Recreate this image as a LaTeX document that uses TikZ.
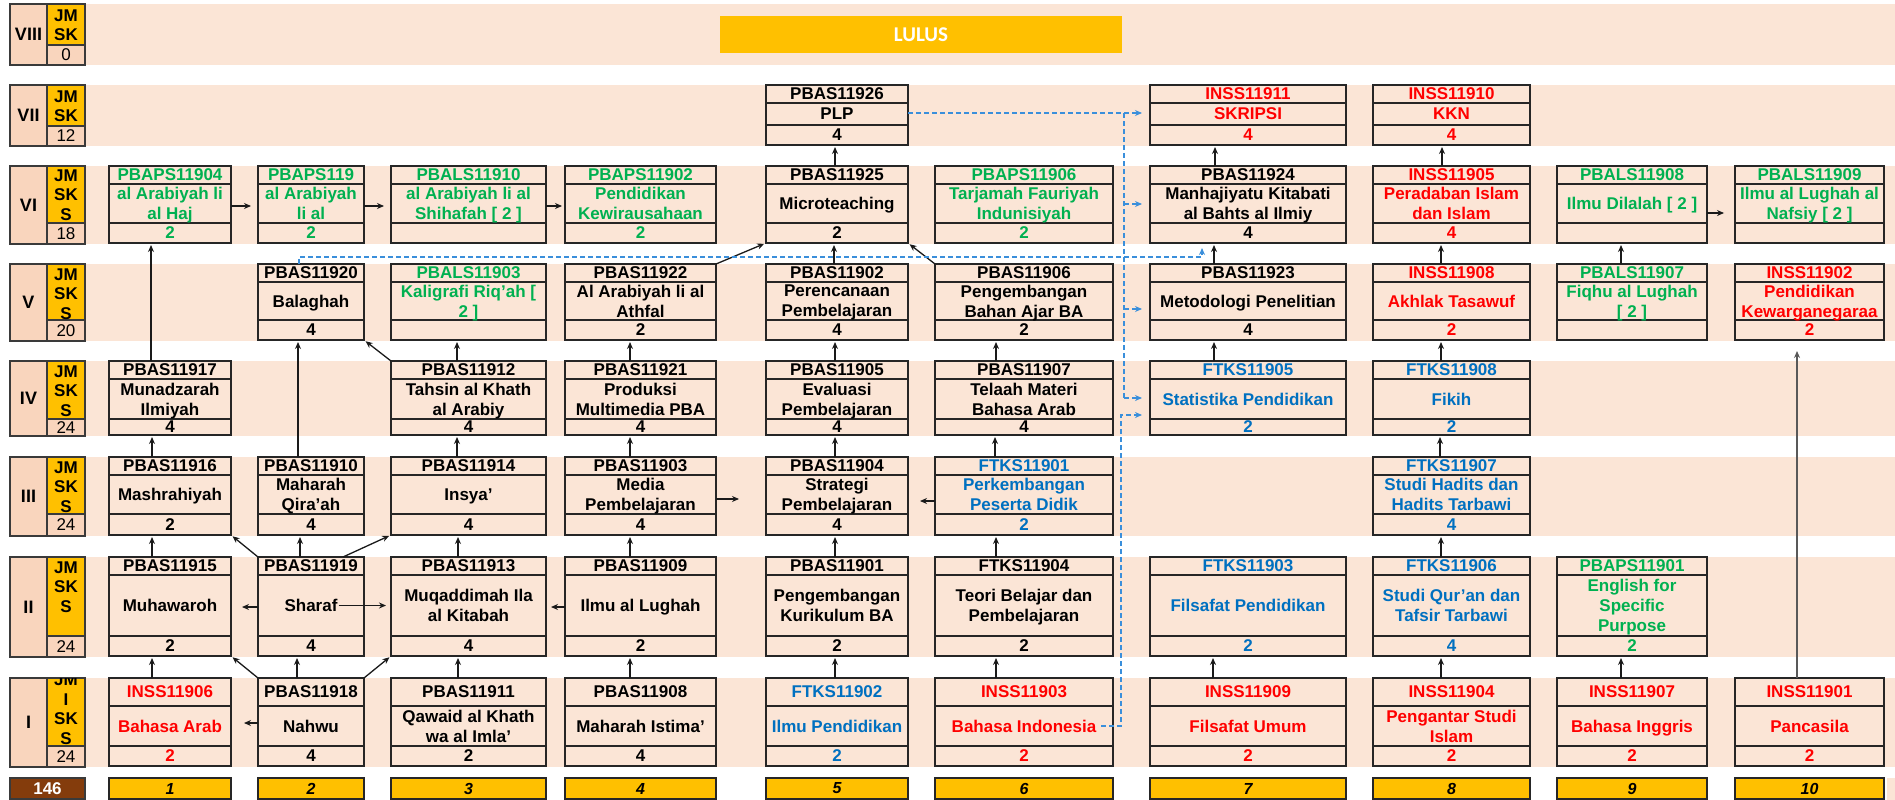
\documentclass[tikz,border=0pt]{standalone}
\usepackage{fontspec}
\setmainfont{Liberation Sans}
\newfontfamily\lulusfont{Carlito}
\usetikzlibrary{arrows.meta,calc}
\definecolor{peach}{HTML}{FBE5D6}
\definecolor{romcol}{HTML}{F9D5BD}
\definecolor{gold}{HTML}{FFC000}
\definecolor{brownc}{HTML}{843C0C}
\definecolor{boxline}{HTML}{262626}
\definecolor{labline}{HTML}{3A3A3A}
\definecolor{cgreen}{HTML}{00B050}
\definecolor{cred}{HTML}{FF0000}
\definecolor{cblue}{HTML}{0070C0}
\definecolor{cblack}{HTML}{000000}
\definecolor{dashblue}{HTML}{3A8FDB}
\definecolor{arrcol}{HTML}{1A1A1A}
\definecolor{arrgray}{HTML}{595959}

\newcommand\mysetcol[3]{\expandafter\def\csname xl#1\endcsname{#2}\expandafter\def\csname xr#1\endcsname{#3}}
\newcommand\mysetrow[5]{\expandafter\def\csname yt#1\endcsname{#2}\expandafter\def\csname yc#1\endcsname{#3}\expandafter\def\csname yk#1\endcsname{#4}\expandafter\def\csname yb#1\endcsname{#5}}
\mysetcol{1}{109}{231}
\mysetcol{2}{258}{364}
\mysetcol{3}{391}{546}
\mysetcol{4}{565}{716}
\mysetcol{5}{766}{908}
\mysetcol{6}{935}{1113}
\mysetcol{7}{1150}{1346}
\mysetcol{8}{1373}{1530}
\mysetcol{9}{1557}{1707}
\mysetcol{10}{1735}{1884}
\mysetrow{7}{85}{103}{125}{145}
\mysetrow{6}{166}{184}{223}{243}
\mysetrow{5}{264}{282}{320}{340}
\mysetrow{4}{361}{379}{419}{435}
\mysetrow{3}{457}{475}{514}{535}
\mysetrow{2}{557}{575}{636}{656}
\mysetrow{1}{678}{706}{746}{766}

\newcommand\crs[7]{%
 \edef\cxl{\csname xl#2\endcsname}\edef\cxr{\csname xr#2\endcsname}%
 \edef\cyt{\csname yt#3\endcsname}\edef\cyc{\csname yc#3\endcsname}%
 \edef\cyk{\csname yk#3\endcsname}\edef\cyb{\csname yb#3\endcsname}%
 \node[cbox, minimum width={\cxr-\cxl}, minimum height={\cyb-\cyt}] (#1) at ({(\cxl+\cxr)/2},{(\cyt+\cyb)/2}) {};
 \draw[cline] (#1.west |- 0,\cyc) -- (#1.east |- 0,\cyc);
 \draw[cline] (#1.west |- 0,\cyk) -- (#1.east |- 0,\cyk);
 \node[ctext, text=#4] (#1a) at ({(\cxl+\cxr)/2},{(\cyt+\cyc)/2}) {#5};
 \node[ctext, text=#4, align=center] (#1t) at ({(\cxl+\cxr)/2},{(\cyc+\cyk)/2}) {#6};
 \node[ctext, text=#4] (#1k) at ({(\cxl+\cxr)/2},{(\cyk+\cyb)/2}) {#7};
}
\newcommand\lab[8]{%
 \fill[peach] (10,#3) rectangle (1895,#5);
 \node[romcell, minimum height={#5-#3}] (#1r) at (28.5,{(#3+#5)/2}) {#2};
 \node[ycell, minimum height={#4-#3}] (#1y) at (66,{(#3+#4)/2}) {};
 \node[ncell, minimum height={#5-#4}] (#1n) at (66,{(#4+#5)/2}) {#7};
 \begin{scope}\clip (47,#3) rectangle (85,#4);
 \node[labtext,align=center] at (66,#8) {#6};\end{scope}
}
\newcommand\numb[1]{%
 \edef\cxl{\csname xl#1\endcsname}\edef\cxr{\csname xr#1\endcsname}%
 \node[numbox, minimum width={\cxr-\cxl}, minimum height=21] (b#1) at ({(\cxl+\cxr)/2},788.5) {#1};
}
\newcommand\varr[3]{\draw[arr] (#1.north -| #3,0) -- (#2.south -| #3,0);}

\begin{document}
\begin{tikzpicture}[x=1pt,y=-1pt,
 cbox/.style={draw=boxline,fill=peach,line width=1.5pt,inner sep=0pt,outer sep=0pt,rectangle},
 cline/.style={draw=boxline,line width=1.5pt},
 ctext/.style={font=\fontsize{17}{20}\selectfont\bfseries,inner sep=0pt,text depth=0pt},
 romcell/.style={draw=labline,fill=romcol,line width=1.5pt,minimum width=37,inner sep=0pt,outer sep=0pt,font=\fontsize{18}{20}\selectfont\bfseries},
 ycell/.style={draw=labline,fill=gold,line width=1.5pt,minimum width=38,inner sep=0pt,outer sep=0pt},
 ncell/.style={draw=labline,fill=romcol,line width=1.5pt,minimum width=38,inner sep=0pt,outer sep=0pt,font=\fontsize{17}{20}\selectfont},
 labtext/.style={font=\fontsize{17}{19.5}\selectfont\bfseries,inner sep=0pt,text depth=0pt},
 numbox/.style={draw=boxline,fill=gold,line width=1.5pt,inner sep=0pt,outer sep=0pt,font=\fontsize{16}{18}\selectfont\bfseries\itshape},
 arr/.style={draw=arrcol,line width=1.3pt,shorten >=2pt,-{Stealth[length=7pt,width=6pt]}},
 dsh/.style={draw=dashblue,line width=1.5pt,dash pattern=on 5pt off 3pt,-{Stealth[length=7pt,width=6pt]}},
]
\useasboundingbox (0,0) rectangle (1895,800);
\fill[white] (0,0) rectangle (1895,800);

% row labels and bands
\lab{l8}{VIII}{4}{45}{65}{JM\\SK}{0}{25}
\lab{l7}{VII}{85}{126}{146}{JM\\SK}{12}{106}
\lab{l6}{VI}{166}{223}{244}{JM\\SK\\S}{18}{195}
\lab{l5}{V}{264}{320}{341}{JM\\SK\\S}{20}{294}
\lab{l4}{IV}{361}{419}{436}{JM\\SK\\S}{24}{391}
\lab{l3}{III}{457}{514}{536}{JM\\SK\\S}{24}{487}
\lab{l2}{II}{557}{636}{657}{JM\\SK\\S}{24}{587}
\lab{l1}{I}{678}{746}{767}{JM\\I\\SK\\S}{24}{709}

% LULUS
\node[fill=gold,minimum width=402,minimum height=37,inner sep=0pt,text=white,font=\lulusfont\fontsize{21}{24}\selectfont\bfseries] (lulus) at (921,34.5) {LULUS};

% row VII
\crs{r7c5}{5}{7}{cblack}{PBAS11926}{PLP}{4}
\crs{r7c7}{7}{7}{cred}{INSS11911}{SKRIPSI}{4}
\crs{r7c8}{8}{7}{cred}{INSS11910}{KKN}{4}
% row VI
\crs{r6c1}{1}{6}{cgreen}{PBAPS11904}{al Arabiyah li\\al Haj}{2}
\crs{r6c2}{2}{6}{cgreen}{PBAPS119}{al Arabiyah\\li al}{2}
\crs{r6c3}{3}{6}{cgreen}{PBALS11910}{al Arabiyah li al\\Shihafah [ 2 ]}{}
\crs{r6c4}{4}{6}{cgreen}{PBAPS11902}{Pendidikan\\Kewirausahaan}{2}
\crs{r6c5}{5}{6}{cblack}{PBAS11925}{Microteaching}{2}
\crs{r6c6}{6}{6}{cgreen}{PBAPS11906}{Tarjamah Fauriyah\\Indunisiyah}{2}
\crs{r6c7}{7}{6}{cblack}{PBAS11924}{Manhajiyatu Kitabati\\al Bahts al Ilmiy}{4}
\crs{r6c8}{8}{6}{cred}{INSS11905}{Peradaban Islam\\dan Islam}{4}
\crs{r6c9}{9}{6}{cgreen}{PBALS11908}{Ilmu Dilalah [ 2 ]}{}
\crs{r6c10}{10}{6}{cgreen}{PBALS11909}{Ilmu al Lughah al\\Nafsiy [ 2 ]}{}
% row V
\crs{r5c2}{2}{5}{cblack}{PBAS11920}{Balaghah}{4}
\crs{r5c3}{3}{5}{cgreen}{PBALS11903}{Kaligrafi Riq'ah [\\2 ]}{}
\crs{r5c4}{4}{5}{cblack}{PBAS11922}{Al Arabiyah li al\\Athfal}{2}
\crs{r5c5}{5}{5}{cblack}{PBAS11902}{Perencanaan\\Pembelajaran}{4}
\crs{r5c6}{6}{5}{cblack}{PBAS11906}{Pengembangan\\Bahan Ajar BA}{2}
\crs{r5c7}{7}{5}{cblack}{PBAS11923}{Metodologi Penelitian}{4}
\crs{r5c8}{8}{5}{cred}{INSS11908}{Akhlak Tasawuf}{2}
\crs{r5c9}{9}{5}{cgreen}{PBALS11907}{Fiqhu al Lughah\\{[} 2 ]}{}
\crs{r5c10}{10}{5}{cred}{INSS11902}{Pendidikan\\Kewarganegaraa}{2}
% row IV
\crs{r4c1}{1}{4}{cblack}{PBAS11917}{Munadzarah\\Ilmiyah}{4}
\crs{r4c3}{3}{4}{cblack}{PBAS11912}{Tahsin al Khath\\al Arabiy}{4}
\crs{r4c4}{4}{4}{cblack}{PBAS11921}{Produksi\\Multimedia PBA}{4}
\crs{r4c5}{5}{4}{cblack}{PBAS11905}{Evaluasi\\Pembelajaran}{4}
\crs{r4c6}{6}{4}{cblack}{PBAS11907}{Telaah Materi\\Bahasa Arab}{4}
\crs{r4c7}{7}{4}{cblue}{FTKS11905}{Statistika Pendidikan}{2}
\crs{r4c8}{8}{4}{cblue}{FTKS11908}{Fikih}{2}
% row III
\crs{r3c1}{1}{3}{cblack}{PBAS11916}{Mashrahiyah}{2}
\crs{r3c2}{2}{3}{cblack}{PBAS11910}{Maharah\\Qira'ah}{4}
\crs{r3c3}{3}{3}{cblack}{PBAS11914}{Insya'}{4}
\crs{r3c4}{4}{3}{cblack}{PBAS11903}{Media\\Pembelajaran}{4}
\crs{r3c5}{5}{3}{cblack}{PBAS11904}{Strategi\\Pembelajaran}{4}
\crs{r3c6}{6}{3}{cblue}{FTKS11901}{Perkembangan\\Peserta Didik}{2}
\crs{r3c8}{8}{3}{cblue}{FTKS11907}{Studi Hadits dan\\Hadits Tarbawi}{4}
% row II
\crs{r2c1}{1}{2}{cblack}{PBAS11915}{Muhawaroh}{2}
\crs{r2c2}{2}{2}{cblack}{PBAS11919}{Sharaf}{4}
\crs{r2c3}{3}{2}{cblack}{PBAS11913}{Muqaddimah Ila\\al Kitabah}{4}
\crs{r2c4}{4}{2}{cblack}{PBAS11909}{Ilmu al Lughah}{2}
\crs{r2c5}{5}{2}{cblack}{PBAS11901}{Pengembangan\\Kurikulum BA}{2}
\crs{r2c6}{6}{2}{cblack}{FTKS11904}{Teori Belajar dan\\Pembelajaran}{2}
\crs{r2c7}{7}{2}{cblue}{FTKS11903}{Filsafat Pendidikan}{2}
\crs{r2c8}{8}{2}{cblue}{FTKS11906}{Studi Qur'an dan\\Tafsir Tarbawi}{4}
\crs{r2c9}{9}{2}{cgreen}{PBAPS11901}{English for\\Specific\\Purpose}{2}
% row I
\crs{r1c1}{1}{1}{cred}{INSS11906}{Bahasa Arab}{2}
\crs{r1c2}{2}{1}{cblack}{PBAS11918}{Nahwu}{4}
\crs{r1c3}{3}{1}{cblack}{PBAS11911}{Qawaid al Khath\\wa al Imla'}{2}
\crs{r1c4}{4}{1}{cblack}{PBAS11908}{Maharah Istima'}{4}
\crs{r1c5}{5}{1}{cblue}{FTKS11902}{Ilmu Pendidikan}{2}
\crs{r1c6}{6}{1}{cred}{INSS11903}{Bahasa Indonesia}{2}
\crs{r1c7}{7}{1}{cred}{INSS11909}{Filsafat Umum}{2}
\crs{r1c8}{8}{1}{cred}{INSS11904}{Pengantar Studi\\Islam}{2}
\crs{r1c9}{9}{1}{cred}{INSS11907}{Bahasa Inggris}{2}
\crs{r1c10}{10}{1}{cred}{INSS11901}{Pancasila}{2}

% bottom row
\node[draw=labline,fill=brownc,line width=1.5pt,minimum width=75,minimum height=21,inner sep=0pt,text=white,font=\fontsize{17}{20}\selectfont\bfseries] (total) at (47.5,788.5) {146};
\numb{1}\numb{2}\numb{3}\numb{4}\numb{5}\numb{6}\numb{7}\numb{8}\numb{9}\numb{10}
\fill[peach] (1887,778) rectangle (1895,800);

% vertical arrows
\varr{r1c1}{r2c1}{152}
\varr{r1c2}{r2c2}{297}
\varr{r1c3}{r2c3}{458}
\varr{r1c4}{r2c4}{630}
\varr{r1c5}{r2c5}{835}
\varr{r1c6}{r2c6}{996}
\varr{r1c7}{r2c7}{1213}
\varr{r1c8}{r2c8}{1441}
\varr{r1c9}{r2c9}{1621}
\draw[arr,draw=arrgray,shorten >=11pt] (r1c10.north -| 1797,0) -- (r5c10.south -| 1797,0);
\varr{r2c1}{r3c1}{152}
\varr{r2c2}{r3c2}{300}
\varr{r2c3}{r3c3}{458}
\varr{r2c4}{r3c4}{630}
\varr{r2c5}{r3c5}{835}
\varr{r2c6}{r3c6}{996}
\varr{r2c8}{r3c8}{1441}
\varr{r3c1}{r4c1}{152}
\varr{r3c2}{r5c2}{298}
\varr{r3c3}{r4c3}{457}
\varr{r3c4}{r4c4}{630}
\varr{r3c5}{r4c5}{835}
\varr{r3c6}{r4c6}{995}
\varr{r3c8}{r4c8}{1440}
\varr{r4c1}{r6c1}{151}
\varr{r4c3}{r5c3}{457}
\varr{r4c4}{r5c4}{630}
\varr{r4c5}{r5c5}{835}
\varr{r4c6}{r5c6}{996}
\varr{r4c7}{r5c7}{1214}
\varr{r4c8}{r5c8}{1441}
\varr{r5c5}{r6c5}{834}
\varr{r5c7}{r6c7}{1214}
\varr{r5c8}{r6c8}{1441}
\varr{r5c9}{r6c9}{1621}
\varr{r6c5}{r7c5}{835}
\varr{r6c7}{r7c7}{1215}
\varr{r6c8}{r7c8}{1442}

% diagonal arrows
\draw[arr] (r1c2.north west) -- (r2c1.south east);
\draw[arr] (r1c2.north east) -- (r2c3.south west);
\draw[arr] (r2c2.north west) -- (r3c1.south east);
\draw[arr] (r2c2.north -| 343,0) -- (r3c3.south west);
\draw[arr] (r4c3.north west) -- (r5c2.south east);
\draw[arr] (r5c4.north east) -- (r6c5.south west);
\draw[arr] (r5c6.north west) -- (r6c5.south east);

% horizontal arrows
\draw[arr,shorten >=13pt] (r1c2.west |- 0,723) -- (r1c1.east |- 0,723);
\draw[arr,shorten >=11pt] (r2c2.west |- 0,607) -- (r2c1.east |- 0,607);
\draw[arr,shorten >=5pt] ([xshift=1pt]r2c2t.east) -- (r2c3.west |- r2c2t.east);
\draw[arr,shorten >=5pt] (r2c4.west |- 0,607) -- (r2c3.east |- 0,607);
\draw[arr,shorten >=27pt] (r3c4.east |- 0,499) -- (r3c5.west |- 0,499);
\draw[arr,shorten >=12pt] (r3c6.west |- 0,501) -- (r3c5.east |- 0,501);
\draw[arr,shorten >=7pt] (r6c1.east |- 0,206) -- (r6c2.west |- 0,206);
\draw[arr,shorten >=7pt] (r6c2.east |- 0,206) -- (r6c3.west |- 0,206);
\draw[arr,shorten >=3pt] (r6c3.east |- 0,206) -- (r6c4.west |- 0,206);
\draw[arr,shorten >=11pt] (r6c9.east |- 0,213) -- (r6c10.west |- 0,213);

% dashed blue connectors
\coordinate (dtop) at (1124,113);
\coordinate (dbot) at (1124,398);
\draw[dsh,shorten >=8pt] (r7c5.east |- dtop) -- (r7c7.west |- dtop);
\draw[dsh,-] (dtop) -- (dbot);
\draw[dsh,shorten >=8pt] (dtop |- 0,204) -- (r6c7.west |- 0,204);
\draw[dsh,shorten >=8pt] (dtop |- 0,309) -- (r5c7.west |- 0,309);
\draw[dsh,shorten >=8pt] (dbot) -- (r4c7.west |- dbot);
\coordinate (bx) at (1121,415);
\draw[dsh,shorten >=8pt] ([xshift=5pt]r1c6t.east) -- (bx |- r1c6t.east) -- (bx) -- (r4c7.west |- bx);
\coordinate (bal1) at (299,257);
\coordinate (bal2) at (1202,257);
\draw[dsh,shorten >=5pt] (r5c2.north -| bal1) -- (bal1) -- (bal2) -- (r6c7.south -| bal2);
\end{tikzpicture}
\end{document}
